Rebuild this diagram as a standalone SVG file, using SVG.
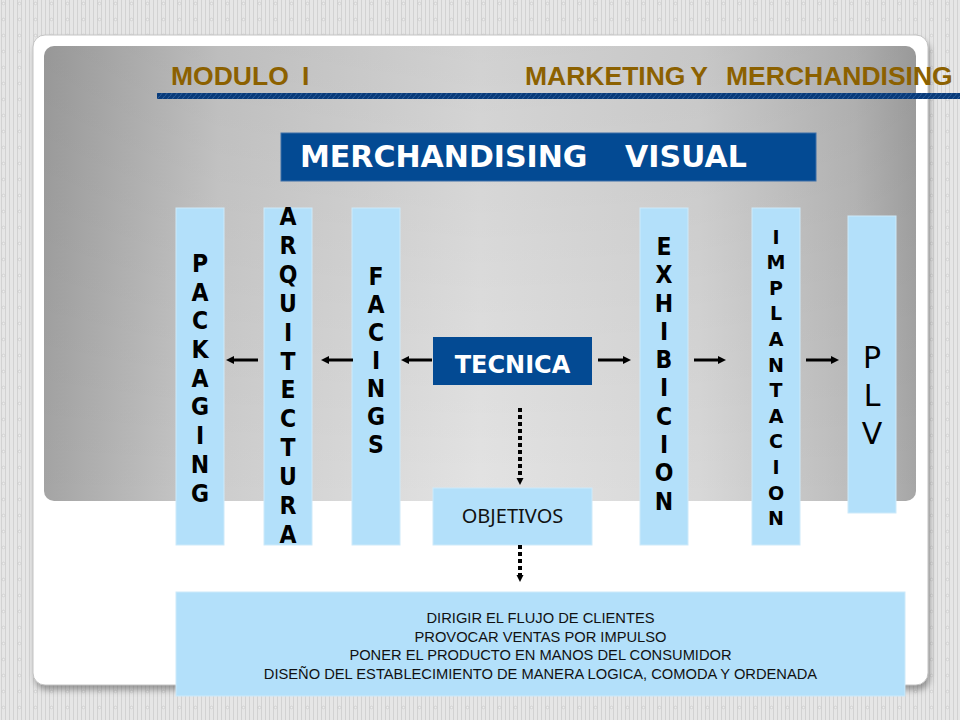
<svg xmlns="http://www.w3.org/2000/svg" width="960" height="720" viewBox="0 0 960 720">
<defs>
<pattern id="bgpat" width="16" height="16" patternUnits="userSpaceOnUse">
<rect width="16" height="16" fill="#e6e6e6"/>
<path d="M1.5 0V16M5.5 0V16M9.5 0V16M13.5 0V16" stroke="#d2d2d2" stroke-width="1"/>
<circle cx="3.5" cy="3.5" r="1.3" fill="#eeeeee" stroke="#c6c6c6" stroke-width="0.6"/>
</pattern>
<pattern id="hatch" width="5" height="6" patternUnits="userSpaceOnUse">
<rect width="5" height="6" fill="#083b7a"/>
<path d="M-1 7L5.5 -1" stroke="#2f5e9c" stroke-width="1"/>
</pattern>
<linearGradient id="panelH" x1="0" y1="0" x2="1" y2="0">
<stop offset="0" stop-color="#a4a4a4"/>
<stop offset="0.2" stop-color="#cdcdcd"/>
<stop offset="0.5" stop-color="#e3e3e3"/>
<stop offset="0.75" stop-color="#d8d8d8"/>
<stop offset="0.93" stop-color="#bcbcbc"/>
<stop offset="1" stop-color="#a6a6a6"/>
</linearGradient>
<linearGradient id="panelV" x1="0" y1="0" x2="0" y2="1">
<stop offset="0" stop-color="#000" stop-opacity="0.08"/>
<stop offset="1" stop-color="#000" stop-opacity="0"/>
</linearGradient>
<filter id="shadow" x="-5%" y="-5%" width="110%" height="115%">
<feGaussianBlur stdDeviation="3"/>
</filter>
<marker id="arr" viewBox="0 0 10 10" refX="0" refY="5" markerWidth="9" markerHeight="8" markerUnits="userSpaceOnUse" orient="auto">
<path d="M0 0L10 5L0 10z" fill="#000"/>
</marker>
<marker id="arrs" viewBox="0 0 10 10" refX="0" refY="5" markerWidth="7" markerHeight="8" markerUnits="userSpaceOnUse" orient="auto">
<path d="M0 0L10 5L0 10z" fill="#000"/>
</marker>
<style>
.lb{fill:#b3e0fa;stroke:#cdeafa;stroke-width:1}
.db{fill:#034a93}
.hdr{font-family:"Liberation Sans",Arial,sans-serif;font-weight:bold;font-size:26.5px;fill:#8c6100}
.vb{font-family:"DejaVu Sans",Verdana,sans-serif;font-weight:bold;font-size:22px;fill:#000;text-anchor:middle}
.vs{font-family:"DejaVu Sans",Verdana,sans-serif;font-weight:bold;font-size:19px;fill:#000;text-anchor:middle}
.wt{font-family:"DejaVu Sans",Verdana,sans-serif;font-weight:bold;fill:#fff}
.nt{font-family:"Noto Sans","DejaVu Sans",sans-serif;fill:#111;text-anchor:middle}
.lt{font-family:"Liberation Sans",Arial,sans-serif;font-size:14.7px;fill:#111;text-anchor:middle}
.ln{stroke:#000;stroke-width:3;fill:none;marker-end:url(#arr)}
.dl{stroke:#000;stroke-width:4;stroke-dasharray:4 3;fill:none;marker-end:url(#arrs)}
</style>
</defs>

<rect width="960" height="720" fill="url(#bgpat)"/>

<g id="card">
<rect x="35" y="40" width="895" height="650" rx="12" fill="#555" opacity="0.55" filter="url(#shadow)"/>
<rect x="33" y="35" width="895" height="650" rx="12" fill="#fff" stroke="#c4c4c4" stroke-width="1"/>
<rect x="44" y="46" width="872" height="455" rx="10" fill="url(#panelH)"/>
<rect x="44" y="46" width="872" height="455" rx="10" fill="url(#panelV)"/>
</g>

<g id="header">
<text class="hdr" x="171" y="85" word-spacing="6">MODULO I</text>
<text class="hdr" x="525" y="85" word-spacing="-2">MARKETING Y</text>
<text class="hdr" x="726" y="85">MERCHANDISING</text>
<rect x="157" y="93" width="803" height="6" fill="url(#hatch)"/>
</g>

<g id="title">
<rect class="db" x="281" y="133" width="535" height="48" stroke="#3d6fa8" stroke-width="1"/>
<text class="wt" font-size="30" y="167"><tspan x="300">MERCHANDISING </tspan><tspan x="625">VISUAL</tspan></text>
</g>

<g id="packaging">
<rect class="lb" x="176" y="208" width="48" height="337"/>
<g transform="scale(1,1.15)">
<text class="vb" x="200" y="236.5"><tspan x="200">P</tspan><tspan x="200" dy="24.96">A</tspan><tspan x="200" dy="24.96">C</tspan><tspan x="200" dy="24.96">K</tspan><tspan x="200" dy="24.96">A</tspan><tspan x="200" dy="24.96">G</tspan><tspan x="200" dy="24.96">I</tspan><tspan x="200" dy="24.96">N</tspan><tspan x="200" dy="24.96">G</tspan></text>
</g>
</g>

<g id="arquitectura">
<rect class="lb" x="264" y="208" width="48" height="337"/>
<g transform="scale(1,1.15)">
<text class="vb" x="288" y="195.7"><tspan x="288">A</tspan><tspan x="288" dy="25.13">R</tspan><tspan x="288" dy="25.13">Q</tspan><tspan x="288" dy="25.13">U</tspan><tspan x="288" dy="25.13">I</tspan><tspan x="288" dy="25.13">T</tspan><tspan x="288" dy="25.13">E</tspan><tspan x="288" dy="25.13">C</tspan><tspan x="288" dy="25.13">T</tspan><tspan x="288" dy="25.13">U</tspan><tspan x="288" dy="25.13">R</tspan><tspan x="288" dy="25.13">A</tspan></text>
</g>
</g>

<g id="facings">
<rect class="lb" x="352" y="208" width="48" height="337"/>
<g transform="scale(1,1.15)">
<text class="vb" x="376" y="247.8"><tspan x="376">F</tspan><tspan x="376" dy="24.35">A</tspan><tspan x="376" dy="24.35">C</tspan><tspan x="376" dy="24.35">I</tspan><tspan x="376" dy="24.35">N</tspan><tspan x="376" dy="24.35">G</tspan><tspan x="376" dy="24.35">S</tspan></text>
</g>
</g>

<g id="tecnica">
<rect class="db" x="433" y="337" width="159" height="48"/>
<text class="wt" font-size="24" x="512.5" y="373" text-anchor="middle">TECNICA</text>
</g>

<g id="objetivos">
<rect class="lb" x="433" y="488" width="159" height="57"/>
<text class="nt" font-size="20" x="512.5" y="523">OBJETIVOS</text>
</g>

<g id="exhibicion">
<rect class="lb" x="640" y="208" width="48" height="337"/>
<g transform="scale(1,1.15)">
<text class="vb" x="664" y="221.7"><tspan x="664">E</tspan><tspan x="664" dy="24.6">X</tspan><tspan x="664" dy="24.6">H</tspan><tspan x="664" dy="24.6">I</tspan><tspan x="664" dy="24.6">B</tspan><tspan x="664" dy="24.6">I</tspan><tspan x="664" dy="24.6">C</tspan><tspan x="664" dy="24.6">I</tspan><tspan x="664" dy="24.6">O</tspan><tspan x="664" dy="24.6">N</tspan></text>
</g>
</g>

<g id="implantacion">
<rect class="lb" x="752" y="208" width="48" height="337"/>
<text class="vs" x="776" y="243.5"><tspan x="776">I</tspan><tspan x="776" dy="25.6">M</tspan><tspan x="776" dy="25.6">P</tspan><tspan x="776" dy="25.6">L</tspan><tspan x="776" dy="25.6">A</tspan><tspan x="776" dy="25.6">N</tspan><tspan x="776" dy="25.6">T</tspan><tspan x="776" dy="25.6">A</tspan><tspan x="776" dy="25.6">C</tspan><tspan x="776" dy="25.6">I</tspan><tspan x="776" dy="25.6">O</tspan><tspan x="776" dy="25.6">N</tspan></text>
</g>

<g id="plv">
<rect class="lb" x="848" y="216" width="48" height="297"/>
<text x="872" y="368" font-family="DejaVu Sans, Verdana, sans-serif" font-size="30" fill="#000" text-anchor="middle"><tspan x="872">P</tspan><tspan x="872" dy="38">L</tspan><tspan x="872" dy="38">V</tspan></text>
</g>

<g id="lista">
<rect class="lb" x="176" y="592" width="729" height="104"/>
<text class="lt" x="540.5" y="623"><tspan x="540.5">DIRIGIR EL FLUJO DE CLIENTES</tspan><tspan x="540.5" dy="18.7">PROVOCAR VENTAS POR IMPULSO</tspan><tspan x="540.5" dy="18.7">PONER EL PRODUCTO EN MANOS DEL CONSUMIDOR</tspan><tspan x="540.5" dy="18.7">DISEÑO DEL ESTABLECIMIENTO DE MANERA LOGICA, COMODA Y ORDENADA</tspan></text>
</g>

<g id="connectors">
<path class="ln" d="M258 360H234"/>
<path class="ln" d="M353 360H329"/>
<path class="ln" d="M432 360H409"/>
<path class="ln" d="M598 360H623"/>
<path class="ln" d="M694 360H718"/>
<path class="ln" d="M806 360H831"/>
<path class="dl" d="M520 408V478"/>
<path class="dl" d="M520 545V575"/>
</g>
</svg>
